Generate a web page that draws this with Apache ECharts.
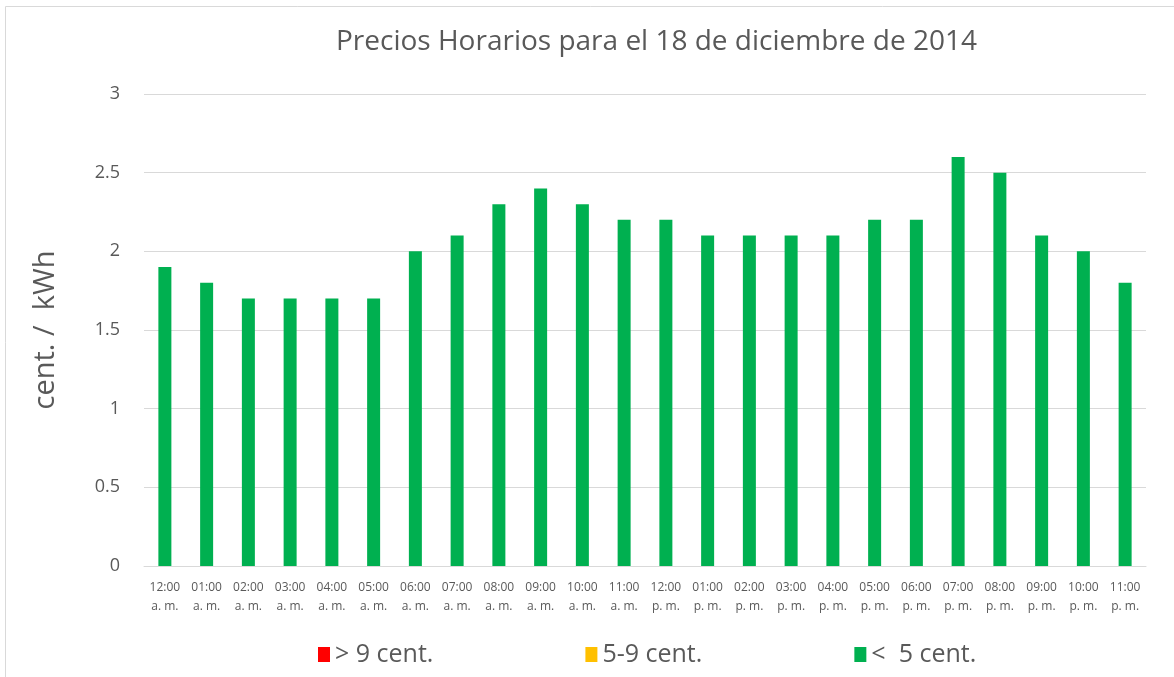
<!DOCTYPE html>
<html>
<head>
<meta charset="utf-8">
<script src="https://cdn.jsdelivr.net/npm/echarts@6/dist/echarts.min.js"></script>
<style>
  html, body { margin: 0; padding: 0; background: #fff; }
  #chart { width: 1174px; height: 677px; }
</style>
</head>
<body>
<div id="chart"></div>
<script>
var hours = ['12:00', '01:00', '02:00', '03:00', '04:00', '05:00', '06:00', '07:00', '08:00', '09:00', '10:00', '11:00',
  '12:00', '01:00', '02:00', '03:00', '04:00', '05:00', '06:00', '07:00', '08:00', '09:00', '10:00', '11:00']
var periods = ['a. m.', 'a. m.', 'a. m.', 'a. m.', 'a. m.', 'a. m.', 'a. m.', 'a. m.', 'a. m.', 'a. m.', 'a. m.', 'a. m.',
  'p. m.', 'p. m.', 'p. m.', 'p. m.', 'p. m.', 'p. m.', 'p. m.', 'p. m.', 'p. m.', 'p. m.', 'p. m.', 'p. m.']
var precioBajo = [1.9, 1.8, 1.7, 1.7, 1.7, 1.7, 2.0, 2.1, 2.3, 2.4, 2.3, 2.2, 2.2, 2.1, 2.1, 2.1, 2.1, 2.2, 2.2, 2.6, 2.5, 2.1, 2.0, 1.8]
var precioMedio = []
var precioAlto = []
var seriesNames = ['> 9 cent.', '5-9 cent.', '<  5 cent.']

var categories = hours.map(function (h, i) { return h + '\n' + periods[i] })

var chartDom = document.getElementById('chart')
var myChart = echarts.init(chartDom)
var font = '"Open Sans", sans-serif'
var option

option = {
  animation: false,
  textStyle: { fontFamily: font },
  title: {
    text: 'Precios Horarios para el 18 de diciembre de 2014',
    left: 336,
    top: 28,
    padding: 0,
    textStyle: { fontSize: 28, fontWeight: 'normal', color: '#595959', fontFamily: font }
  },
  graphic: [
    {
      type: 'rect',
      shape: { x: 5.5, y: 6.5, width: 1300, height: 800 },
      style: { fill: 'none', stroke: '#d9d9d9', lineWidth: 1 },
      silent: true
    }
  ],
  legend: {
    left: 318,
    top: 642,
    padding: 0,
    itemWidth: 12,
    itemHeight: 15,
    itemGap: 152,
    icon: 'rect',
    textStyle: { fontSize: 25, color: '#595959', fontFamily: font },
    data: seriesNames
  },
  grid: { left: 144, right: 28, top: 94, bottom: 111 },
  xAxis: {
    type: 'category',
    data: categories,
    axisLine: { lineStyle: { color: '#d9d9d9' } },
    axisTick: { show: false },
    axisLabel: { interval: 0, fontSize: 12, color: '#595959', margin: 12, lineHeight: 19 }
  },
  yAxis: {
    type: 'value',
    min: 0,
    max: 3,
    interval: 0.5,
    name: 'cent. /  kWh',
    nameLocation: 'middle',
    nameGap: 84,
    nameTextStyle: { fontSize: 29, color: '#595959', fontFamily: font },
    axisLabel: { fontSize: 18, color: '#595959', margin: 24 },
    splitLine: { lineStyle: { color: '#d9d9d9' } }
  },
  series: [
    { name: seriesNames[0], type: 'bar', stack: 'p', barWidth: 13, itemStyle: { color: '#ff0000' }, data: precioAlto },
    { name: seriesNames[1], type: 'bar', stack: 'p', barWidth: 13, itemStyle: { color: '#ffc000' }, data: precioMedio },
    { name: seriesNames[2], type: 'bar', stack: 'p', barWidth: 13, itemStyle: { color: '#00b050' }, data: precioBajo }
  ]
}

option && myChart.setOption(option)
</script>
</body>
</html>
